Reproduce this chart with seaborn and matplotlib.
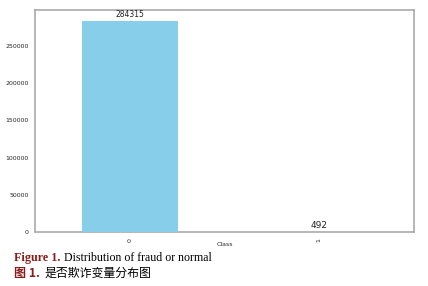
import matplotlib
matplotlib.use("Agg")
import matplotlib.pyplot as plt
import seaborn as sns
import pandas as pd

classes = ["0", "1"]
counts = [284315, 492]
bar_colors = ["#87CEEB", "#D9A8A8"]
yticks = [0, 50000, 100000, 150000, 200000, 250000]

sns.set_style("white")
plt.rcParams['font.family'] = ['DejaVu Sans']

df = pd.DataFrame({"Class": classes, "count": counts})

fig = plt.figure(figsize=(4.28, 2.86), dpi=100)
ax = fig.add_axes([0.082, 0.189, 0.885, 0.776])
sns.barplot(data=df, x="Class", y="count", hue="Class", palette=bar_colors,
            width=0.5, legend=False, ax=ax, saturation=1)
for p, col in zip(ax.patches, bar_colors):
    p.set_edgecolor(col)
    p.set_linewidth(0.8)
    p.set_zorder(3)
ax.set_xlim(-0.5, 1.5)
ax.set_ylim(0, max(counts) * 1.05)
ax.set_yticks(yticks)
ax.set_yticklabels([str(t) for t in yticks], fontsize=4.5)
ax.set_xticks(range(len(classes)))
ax.set_xticklabels(classes, rotation=90, fontsize=4.5)
ax.set_ylabel("")
ax.set_xlabel("Class", fontsize=4.5, labelpad=0)
ax.tick_params(axis="both", length=2.5, width=0.6, color="#555555", pad=2)
for s in ax.spines.values():
    s.set_color("#aaaaaa")
    s.set_linewidth(1.2)
    s.set_zorder(2)

for i, c in enumerate(counts):
    ax.text(i, c + 2000, str(c), ha="center", va="bottom",
            fontsize=5.5 if i == 0 else 6.5, color="#222222")

serif = ['Liberation Serif', 'DejaVu Serif']
fig.text(14/428, 1 - 261/286, "Figure 1.", fontsize=8.7, fontweight="bold",
         color="#8B1A1A", family=serif, va="baseline")
fig.text(64/428, 1 - 261/286, "Distribution of fraud or normal", fontsize=8.6,
         color="black", family=serif, va="baseline")
fig.text(14/428, 1 - 277/286, "图 1.", fontsize=8.7, fontweight="bold",
         color="#8B1A1A", family=['Noto Sans CJK SC', 'Liberation Serif'], va="baseline")
fig.text(45/428, 1 - 277/286, "是否欺诈变量分布图", fontsize=8.6,
         color="black", family=['Noto Sans CJK SC'], va="baseline")

fig.savefig("out.png", dpi=100)
